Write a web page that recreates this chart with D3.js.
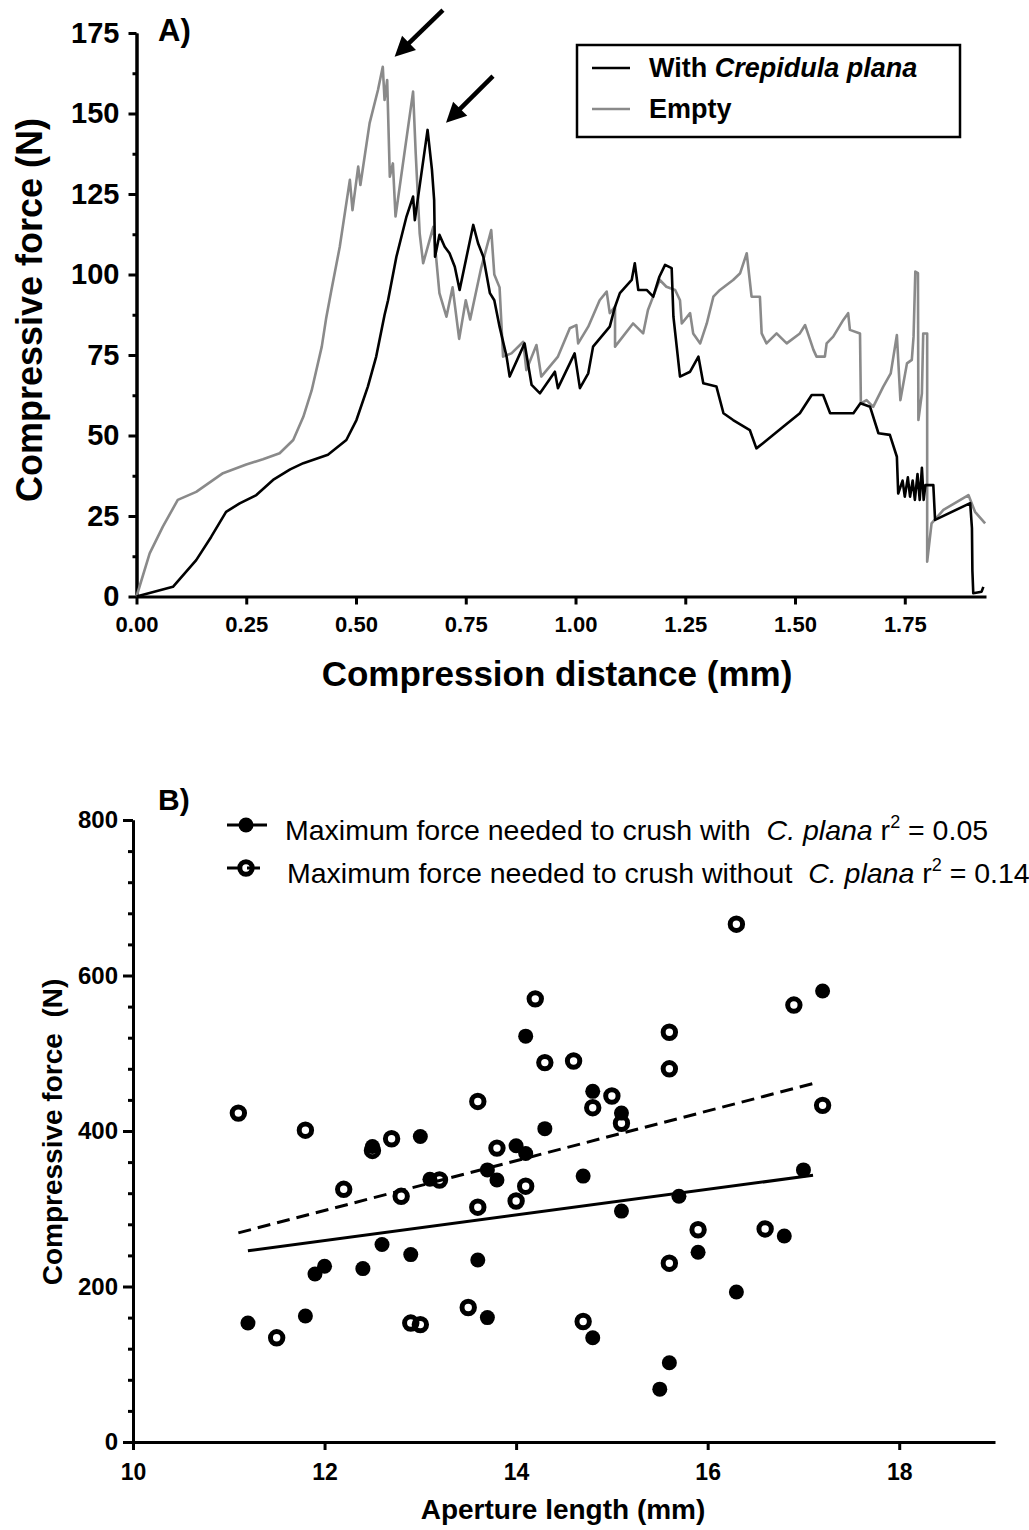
<!DOCTYPE html>
<html>
<head>
<meta charset="utf-8">
<script src="https://cdn.jsdelivr.net/npm/d3@7/dist/d3.min.js"></script>
<style>
  body { margin: 0; background: #fff; }
  svg text { font-family: "Liberation Sans", Arial, sans-serif; fill: #000; }
</style>
</head>
<body>
<svg id="chart"></svg>
<script>
// ---------- panel A data: compression distance (mm), force (N)
const withCrepidula = [
    [0,0],[0.083,3],[0.136,11.3],[0.17,18.5],[0.204,26.3],[0.235,28.9],[0.273,31.5],[0.311,36.2],
    [0.35,39.5],[0.38,41.4],[0.436,44],[0.478,48.6],[0.501,54.8],[0.527,65.2],[0.546,74.5],[0.565,87.4],
    [0.573,92],[0.592,105.5],[0.615,118],[0.63,124.2],[0.634,116.9],[0.663,144.9],[0.673,132.5],[0.678,123.1],
    [0.68,105.5],[0.69,112.3],[0.702,108.6],[0.713,106.6],[0.725,102.4],[0.736,95.2],[0.767,115.4],[0.778,109.7],
    [0.79,105.5],[0.805,94.2],[0.815,92],[0.827,83.8],[0.843,74.5],[0.85,68.3],[0.884,78.6],[0.9,65.7],
    [0.919,63.1],[0.953,69.8],[0.96,64.7],[0.998,75.5],[1.01,64.7],[1.029,69.3],[1.04,77.6],[1.078,83.8],
    [1.09,90],[1.101,94.2],[1.128,98.3],[1.135,103.5],[1.143,95.2],[1.162,95.2],[1.177,93.1],[1.191,99.3],
    [1.204,103],[1.219,102],[1.223,86.9],[1.238,68.3],[1.261,69.8],[1.28,74.5],[1.291,66.2],[1.321,65.2],
    [1.337,56.9],[1.359,54.8],[1.397,51.7],[1.412,46],[1.427,47.6],[1.473,52.7],[1.511,56.9],[1.538,62.6],
    [1.564,62.6],[1.58,56.9],[1.633,56.9],[1.649,60],[1.671,58.9],[1.69,50.7],[1.716,50.2],[1.732,43.4],
    [1.735,32],[1.745,36],[1.75,31],[1.757,37],[1.762,31],[1.768,36],[1.773,30],[1.779,38],[1.784,30],
    [1.789,40],[1.793,30],[1.797,34.6],[1.815,34.6],[1.819,23.8],[1.899,29],[1.903,21.2],[1.904,8],
    [1.906,1],[1.925,1.5],[1.929,3]
];
const emptyShell = [
    [0,0],[0.03,13.4],[0.06,21.7],[0.094,30],[0.136,32.5],[0.197,38.3],[0.25,41],[0.288,42.6],[0.326,44.5],
    [0.357,48.6],[0.38,55.8],[0.399,64],[0.422,77.6],[0.432,86.4],[0.444,95.2],[0.463,108.6],[0.486,129.4],
    [0.492,120],[0.505,133.5],[0.51,127.8],[0.531,147],[0.55,157.3],[0.561,164.5],[0.565,154.2],[0.571,160.4],
    [0.577,130.4],[0.584,134.5],[0.59,118],[0.63,156.8],[0.636,137.6],[0.645,112.8],[0.653,103.5],[0.676,114.8],
    [0.69,94.2],[0.706,86.9],[0.72,96],[0.735,80],[0.75,92],[0.76,86],[0.785,102],[0.808,113.8],[0.815,100],
    [0.827,96],[0.835,74.5],[0.854,75.5],[0.881,79.1],[0.888,70.3],[0.911,78.1],[0.922,68.3],[0.96,74.5],
    [0.987,83.3],[1.002,84.3],[1.006,78.6],[1.029,83.8],[1.055,92],[1.071,94.7],[1.078,88],[1.09,90],
    [1.09,77.6],[1.131,84.8],[1.154,81.7],[1.165,89],[1.184,95.7],[1.192,98.3],[1.207,96.2],[1.227,95.2],
    [1.238,92],[1.242,84.8],[1.261,88],[1.268,81.7],[1.284,78.6],[1.299,84.8],[1.314,93.1],[1.329,95.2],
    [1.359,98.3],[1.375,100.4],[1.39,106.6],[1.401,93.1],[1.42,93.1],[1.424,81.7],[1.435,78.6],[1.458,81.7],
    [1.481,78.6],[1.511,81.7],[1.523,84.3],[1.542,76.6],[1.549,74.5],[1.568,74.5],[1.572,78.6],[1.587,80.7],
    [1.61,85.9],[1.621,88],[1.625,82.8],[1.648,81.7],[1.65,60],[1.663,61],[1.678,58.9],[1.701,65.2],
    [1.718,69.3],[1.732,81.2],[1.74,61],[1.755,72.4],[1.766,73.5],[1.77,80.7],[1.774,100.9],[1.78,100.4],
    [1.781,54.8],[1.789,63.1],[1.792,81.7],[1.801,81.7],[1.801,10.8],[1.811,22.7],[1.838,26.9],[1.895,31.5],
    [1.91,26.3],[1.933,22.7]
];
const xTicksA = [0, 0.25, 0.5, 0.75, 1, 1.25, 1.5, 1.75];
const yTicksA = [0, 25, 50, 75, 100, 125, 150, 175];
const yMinorA = [12.5, 37.5, 62.5, 87.5, 112.5, 137.5, 162.5];
// arrows pointing at the two peaks: [tail, tip] in data units
const arrowTails = [[0.698, 182.1], [0.812, 161.6]];
const arrowTips = [[0.588, 167.6], [0.705, 147.1]];

// ---------- panel B data: aperture length (mm), max force (N)
const apertureWith = [11.2,11.8,11.9,12.0,12.4,12.5,12.6,12.9,13.0,13.1,13.6,13.7,13.7,13.8,14.0,14.1,
    14.1,14.3,14.7,14.8,14.8,15.1,15.1,15.5,15.6,15.7,15.9,16.3,16.8,17.0,17.2];
const forceWith = [153,162,216,226,223,380,254,241,393,338,234,350,160,337,381,371,
    522,403,342,451,134,423,297,68,102,316,244,193,265,350,580];
const apertureWithout = [11.1,11.5,11.8,12.2,12.5,12.7,12.8,12.9,13.0,13.2,13.5,13.6,13.6,13.8,14.0,14.1,
    14.2,14.3,14.6,14.7,14.8,15.0,15.1,15.6,15.6,15.6,15.9,16.3,16.6,16.9,17.2];
const forceWithout = [423,134,401,325,375,390,316,153,151,337,173,438,302,378,310,329,
    570,488,490,155,430,445,410,527,480,230,273,666,274,562,433];
// regression lines (start and end)
const fitWithX = [11.2, 17.1];
const fitWithY = [246, 343];
const fitWithoutX = [11.1, 17.1];
const fitWithoutY = [269, 461];
const xTicksB = [10, 12, 14, 16, 18];
const yTicksB = [0, 200, 400, 600, 800];
const yMinorB = [40,80,120,160,240,280,320,360,440,480,520,560,640,680,720,760];
const legendB = ["Maximum force needed to crush with  ", "Maximum force needed to crush without  "];
const r2B = ["0.05", "0.14"];

const svg = d3.select("#chart").attr("width", 1029).attr("height", 1530);

const styleAxis = (g, fontSize) => {
    g.attr("font-family", null).attr("font-size", fontSize).attr("font-weight", "bold");
    g.select(".domain").attr("stroke-width", 3);
    g.selectAll(".tick line").attr("stroke-width", 3);
};

// ================= Panel A =================
const xA = d3.scaleLinear().domain([0, 1.935]).range([136.5, 986]);
const yA = d3.scaleLinear().domain([0, 175]).range([596.5, 33]);

svg.append("g")
    .attr("transform", "translate(0,596.5)")
    .call(d3.axisBottom(xA).tickValues(xTicksA).tickFormat(d3.format(".2f"))
        .tickSize(8).tickSizeOuter(0).tickPadding(12))
    .call(g => styleAxis(g, 22));

svg.append("g")
    .attr("transform", "translate(136.5,0)")
    .call(d3.axisLeft(yA).tickValues(yMinorA).tickFormat("").tickSize(4).tickSizeOuter(0))
    .call(g => styleAxis(g, 10));
svg.append("g")
    .attr("transform", "translate(136.5,0)")
    .call(d3.axisLeft(yA).tickValues(yTicksA).tickSize(8).tickSizeOuter(0).tickPadding(9))
    .call(g => styleAxis(g, 29));

const lineA = d3.line().x(d => xA(d[0])).y(d => yA(d[1]));
svg.append("path").datum(emptyShell)
    .attr("fill", "none").attr("stroke", "#8a8a8a").attr("stroke-width", 2.6)
    .attr("stroke-linejoin", "round").attr("d", lineA);
svg.append("path").datum(withCrepidula)
    .attr("fill", "none").attr("stroke", "#000").attr("stroke-width", 2.6)
    .attr("stroke-linejoin", "round").attr("d", lineA);

// arrows
arrowTails.forEach((t, i) => {
    const p0 = [xA(t[0]), yA(t[1])];
    const p1 = [xA(arrowTips[i][0]), yA(arrowTips[i][1])];
    const len = Math.hypot(p1[0] - p0[0], p1[1] - p0[1]);
    const u = [(p1[0] - p0[0]) / len, (p1[1] - p0[1]) / len];
    const n = [-u[1], u[0]];
    const b = [p1[0] - u[0] * 20, p1[1] - u[1] * 20];
    svg.append("line")
        .attr("x1", p0[0]).attr("y1", p0[1])
        .attr("x2", b[0] + u[0] * 3).attr("y2", b[1] + u[1] * 3)
        .attr("stroke", "#000").attr("stroke-width", 4.5);
    svg.append("path")
        .attr("d", `M${p1[0]},${p1[1]}L${b[0] + n[0] * 10},${b[1] + n[1] * 10}L${b[0] - n[0] * 10},${b[1] - n[1] * 10}Z`)
        .attr("fill", "#000");
});

svg.append("text").attr("x", 158).attr("y", 41)
    .attr("font-size", 31).attr("font-weight", "bold").text("A)");

svg.append("text")
    .attr("transform", "translate(42,310) rotate(-90)")
    .attr("text-anchor", "middle").attr("font-size", 36).attr("font-weight", "bold")
    .text("Compressive force (N)");
svg.append("text")
    .attr("x", 557).attr("y", 686)
    .attr("text-anchor", "middle").attr("font-size", 35).attr("font-weight", "bold")
    .text("Compression distance (mm)");

// legend A
svg.append("rect").attr("x", 577).attr("y", 45).attr("width", 383).attr("height", 92)
    .attr("fill", "none").attr("stroke", "#000").attr("stroke-width", 2.5);
const legA = [["#000", 68, 77], ["#8a8a8a", 109, 118]];
legA.forEach(([c, ly]) => {
    svg.append("line").attr("x1", 592).attr("x2", 630).attr("y1", ly).attr("y2", ly)
        .attr("stroke", c).attr("stroke-width", 2.6);
});
const tA = svg.append("text").attr("x", 649).attr("y", 77)
    .attr("font-size", 27).attr("font-weight", "bold").style("white-space", "pre");
tA.append("tspan").text("With ");
tA.append("tspan").attr("font-style", "italic").text("Crepidula plana");
svg.append("text").attr("x", 649).attr("y", 118)
    .attr("font-size", 27).attr("font-weight", "bold").text("Empty");

// ================= Panel B =================
const xB = d3.scaleLinear().domain([10, 19]).range([133, 995]);
const yB = d3.scaleLinear().domain([0, 800]).range([1442, 820]);

svg.append("g")
    .attr("transform", "translate(0,1442)")
    .call(d3.axisBottom(xB).tickValues(xTicksB).tickSize(8).tickSizeOuter(0).tickPadding(14))
    .call(g => styleAxis(g, 23));
svg.append("g")
    .attr("transform", "translate(133,0)")
    .call(d3.axisLeft(yB).tickValues(yMinorB).tickFormat("").tickSize(5).tickSizeOuter(0))
    .call(g => styleAxis(g, 10));
svg.append("g")
    .attr("transform", "translate(133,0)")
    .call(d3.axisLeft(yB).tickValues(yTicksB).tickSize(10).tickSizeOuter(0).tickPadding(5))
    .call(g => styleAxis(g, 24));

// regression lines
const lineB = d3.line().x(d => xB(d[0])).y(d => yB(d[1]));
svg.append("path").datum(d3.zip(fitWithX, fitWithY))
    .attr("fill", "none").attr("stroke", "#000").attr("stroke-width", 3).attr("d", lineB);
svg.append("path").datum(d3.zip(fitWithoutX, fitWithoutY))
    .attr("fill", "none").attr("stroke", "#000").attr("stroke-width", 3)
    .attr("stroke-dasharray", "13,7").attr("d", lineB);

svg.append("g").selectAll("circle")
    .data(d3.zip(apertureWith, forceWith))
    .join("circle")
    .attr("cx", d => xB(d[0])).attr("cy", d => yB(d[1]))
    .attr("r", 7.5).attr("fill", "#000");
svg.append("g").selectAll("circle")
    .data(d3.zip(apertureWithout, forceWithout))
    .join("circle")
    .attr("cx", d => xB(d[0])).attr("cy", d => yB(d[1]))
    .attr("r", 6.2).attr("fill", "none").attr("stroke", "#000").attr("stroke-width", 5);

svg.append("text").attr("x", 158).attr("y", 810)
    .attr("font-size", 30).attr("font-weight", "bold").text("B)");

svg.append("text")
    .attr("transform", "translate(62,1132) rotate(-90)")
    .attr("text-anchor", "middle").attr("font-size", 28).attr("font-weight", "bold")
    .style("white-space", "pre")
    .text("Compressive force  (N)");
svg.append("text")
    .attr("x", 563).attr("y", 1519)
    .attr("text-anchor", "middle").attr("font-size", 28).attr("font-weight", "bold")
    .text("Aperture length (mm)");

// legend B
legendB.forEach((label, i) => {
    const ly = 825 + i * 43;
    const ln = svg.append("line").attr("x1", 227).attr("x2", 267).attr("y1", ly).attr("y2", ly)
        .attr("stroke", "#000").attr("stroke-width", 3);
    if (i === 1) ln.attr("stroke-dasharray", "13,7");
    const c = svg.append("circle").attr("cx", 246).attr("cy", ly);
    if (i === 0) c.attr("r", 7.5).attr("fill", "#000");
    else c.attr("r", 6.2).attr("fill", "none").attr("stroke", "#000").attr("stroke-width", 5);

    const t = svg.append("text").attr("x", 285 + i * 2).attr("y", ly + 15)
        .attr("font-size", 28.5).style("white-space", "pre");
    t.append("tspan").text(label);
    t.append("tspan").attr("font-style", "italic").text("C. plana");
    t.append("tspan").text(" r");
    t.append("tspan").attr("font-size", 18).attr("dy", -12).text("2");
    t.append("tspan").attr("dy", 12).text(" = " + r2B[i]);
});
</script>
</body>
</html>
